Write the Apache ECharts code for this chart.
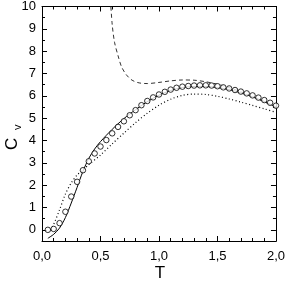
<!DOCTYPE html>
<html><head><meta charset="utf-8">
<script src="https://cdn.jsdelivr.net/npm/echarts@6/dist/echarts.min.js"></script>
<style>html,body{margin:0;padding:0;background:#fff}#c{width:288px;height:283px}</style>
</head><body><div id="c"></div>
<script>
// Measured data (circles)
const circT = [0.05,0.10,0.15,0.20,0.25,0.30,0.35,0.40,0.45,0.50,0.55,0.60,0.65,0.70,0.75,0.80,0.85,0.90,0.95,1.00,1.05,1.10,1.15,1.20,1.25,1.30,1.35,1.40,1.45,1.50,1.55,1.60,1.65,1.70,1.75,1.80,1.85,1.90,1.95,2.00];
const circCv = [0.00,0.04,0.30,0.81,1.49,2.15,2.67,3.07,3.42,3.73,4.02,4.32,4.61,4.86,5.13,5.36,5.58,5.77,5.93,6.06,6.18,6.28,6.36,6.41,6.44,6.46,6.47,6.47,6.46,6.43,6.38,6.33,6.26,6.19,6.11,6.02,5.92,5.81,5.69,5.56];
// Solid curve
const solidT = [0.05,0.10,0.15,0.20,0.25,0.30,0.35,0.40,0.45,0.50,0.60,0.70,0.80,0.90,1.00,1.10,1.20,1.30,1.40,1.50,1.60,1.70,1.80,1.90,2.00];
const solidCv = [-0.38,-0.20,0.08,0.55,1.20,1.90,2.62,3.20,3.62,3.95,4.50,4.98,5.38,5.74,6.03,6.24,6.37,6.42,6.42,6.37,6.28,6.13,5.95,5.75,5.50];
// Dotted curve
const dotT = [0.07,0.10,0.15,0.20,0.25,0.30,0.35,0.40,0.50,0.60,0.70,0.80,0.90,1.00,1.10,1.20,1.30,1.40,1.50,1.60,1.70,1.80,1.90,2.00];
const dotCv = [0.00,0.25,0.90,1.60,2.10,2.45,2.68,2.92,3.35,3.85,4.33,4.80,5.22,5.58,5.85,6.02,6.08,6.06,5.98,5.86,5.72,5.57,5.42,5.26];
// Dashed curve
const dashT = [0.585,0.60,0.62,0.65,0.68,0.72,0.77,0.83,0.90,1.00,1.10,1.20,1.30,1.40,1.50,1.60,1.70,1.80,1.90,2.00];
const dashCv = [10.3,9.2,8.4,7.8,7.3,6.95,6.70,6.58,6.55,6.60,6.67,6.71,6.70,6.63,6.52,6.37,6.18,5.97,5.73,5.48];
// Tick labels
const xTickVals = [0,0.5,1,1.5,2];
const xTickLabels = ['0,0','0,5','1,0','1,5','2,0'];
const yTickVals = [0,1,2,3,4,5,6,7,8,9,10];
const yMinorVals = [0.5,1.5,2.5,3.5,4.5,5.5,6.5,7.5,8.5,9.5];

const zip = (a,b) => a.map((v,i)=>[v,b[i]]);
const font = '"Liberation Sans", Arial, sans-serif';
const lineCol = '#000';

function xAx(pos, labels){
  return {type:'value', position:pos, min:0, max:2, interval:0.5,
    axisLine:{show:true, onZero:false, lineStyle:{color:lineCol,width:1}},
    axisTick:{show:true, inside:true, length:5, lineStyle:{color:lineCol}},
    minorTick:{show:true, splitNumber:5, length:3, lineStyle:{color:lineCol}},
    splitLine:{show:false},
    axisLabel:{show:labels, margin:9, fontFamily:font, fontSize:13, color:'#000',
      formatter:v=>{const i=xTickVals.indexOf(v);return i>=0?xTickLabels[i]:'';}}
  };
}
function yAx(pos, vals, len, labels){
  return {type:'value', position:pos, min:-0.5, max:10,
    axisLine:{show:true, onZero:false, lineStyle:{color:lineCol,width:1}},
    axisTick:{show:true, inside:true, length:len, customValues:vals, lineStyle:{color:lineCol}},
    splitLine:{show:false},
    axisLabel:{show:labels, customValues:vals, margin:6, fontFamily:font, fontSize:13, color:'#000'}
  };
}

const chart = echarts.init(document.getElementById('c'), null, {renderer:'canvas'});
chart.setOption({
  animation:false,
  grid:{left:42, right:10, top:5, bottom:42},
  xAxis:[xAx('bottom',true), xAx('top',false)],
  yAxis:[yAx('left',yTickVals,5,true), yAx('left',yMinorVals,3,false), yAx('right',yTickVals,5,false), yAx('right',yMinorVals,3,false)],
  graphic:[
    {type:'text', x:160, y:265, style:{text:'T', font:'17px '+font, fill:'#000', align:'center', verticalAlign:'top'}},
    {type:'text', x:4, y:150, rotation:Math.PI/2, style:{text:'C', font:'17px '+font, fill:'#000', verticalAlign:'top'}},
    {type:'text', x:12, y:130, rotation:Math.PI/2, style:{text:'v', font:'11px '+font, fill:'#000', verticalAlign:'top'}}
  ],
  series:[
    {type:'line', data:zip(solidT,solidCv), showSymbol:false, smooth:0.3, lineStyle:{color:'#000',width:1}, z:3},
    {type:'line', data:zip(dotT,dotCv), showSymbol:false, smooth:0.3, lineStyle:{color:'#000',width:1.2,type:[1,2.5]}, z:3},
    {type:'line', data:zip(dashT,dashCv), showSymbol:false, smooth:0.3, clip:true, lineStyle:{color:'#333',width:1,type:[4,3]}, z:3},
    {type:'scatter', data:zip(circT,circCv), symbol:'circle', symbolSize:5.5, itemStyle:{color:'#fff', borderColor:'#000', borderWidth:1}, z:4}
  ]
});
</script></body></html>
